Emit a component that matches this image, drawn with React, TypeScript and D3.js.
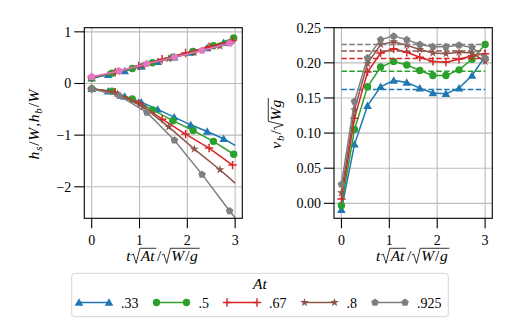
import React, { useEffect, useRef } from "react";
import * as d3 from "d3";

// legend labels and colours per Atwood number
const atLabels = [".33", ".5", ".67", ".8", ".925"];
const lineColors = ["#1f77b4", "#2ca02c", "#d62728", "#8c564b", "#7f7f7f"];
const surfaceColors = ["#1f77b4", "#2ca02c", "#d62728", "#8c564b", "#e377c2"];
const markerKinds = ["tri", "circle", "plus", "star", "pent"];

// left panel: bubble / spike heights
const hTimes = [
  [0, 0.345, 0.69, 1.035, 1.38, 1.725, 2.07, 2.415, 2.76, 3.0],
  [0, 0.424, 0.849, 1.273, 1.697, 2.121, 2.546, 2.97],
  [0, 0.491, 0.982, 1.473, 1.964, 2.455, 2.946],
  [0, 0.537, 1.073, 1.61, 2.147, 2.683, 3.0],
  [0, 0.577, 1.154, 1.731, 2.308, 2.885, 3.0],
];
const hMarked = [9, 8, 7, 6, 6];
const hsValues = [
  [0.1, 0.17, 0.24, 0.33, 0.42, 0.51, 0.6, 0.69, 0.79, 0.86],
  [0.11, 0.2, 0.29, 0.4, 0.51, 0.62, 0.73, 0.88],
  [0.12, 0.22, 0.34, 0.47, 0.59, 0.71, 0.83],
  [0.12, 0.23, 0.35, 0.48, 0.6, 0.72, 0.8],
  [0.13, 0.24, 0.38, 0.51, 0.64, 0.78, 0.81],
];
const hbValues = [
  [-0.1, -0.15, -0.25, -0.36, -0.5, -0.65, -0.8, -0.93, -1.07, -1.2],
  [-0.1, -0.15, -0.3, -0.51, -0.72, -0.91, -1.12, -1.37],
  [-0.1, -0.17, -0.38, -0.69, -0.98, -1.25, -1.58],
  [-0.1, -0.2, -0.45, -0.84, -1.27, -1.67, -1.93],
  [-0.1, -0.24, -0.56, -1.1, -1.76, -2.47, -2.6],
];

// right panel: bubble velocity
const vTimes = [0, 0.273, 0.545, 0.818, 1.091, 1.364, 1.636, 1.909, 2.182, 2.455, 2.727, 3.0];
const vbValues = [
  [-0.009, 0.084, 0.139, 0.166, 0.175, 0.172, 0.164, 0.157, 0.156, 0.164, 0.182, 0.209],
  [-0.003, 0.105, 0.166, 0.194, 0.202, 0.197, 0.189, 0.182, 0.182, 0.19, 0.205, 0.226],
  [0.006, 0.121, 0.187, 0.214, 0.22, 0.215, 0.208, 0.202, 0.201, 0.205, 0.21, 0.213],
  [0.015, 0.133, 0.199, 0.226, 0.23, 0.225, 0.219, 0.214, 0.213, 0.215, 0.214, 0.202],
  [0.027, 0.145, 0.207, 0.233, 0.238, 0.233, 0.226, 0.223, 0.223, 0.225, 0.222, 0.207],
];
const vbTerminal = [0.162, 0.188, 0.206, 0.217, 0.226];

const xTicks = [0, 1, 2, 3];
const hTicks = [1, 0, -1, -2];
const vTicks = [0, 0.05, 0.1, 0.15, 0.2, 0.25];

const FONT = '"Liberation Serif", "Times New Roman", "DejaVu Serif", serif';
const FS = 14;
const MATH_FS = 15.5;

type Tok = { s: string; it?: boolean; sub?: boolean } | { sqrt: Tok[] };

const xLabel: Tok[] = [
  { s: "t", it: true },
  { sqrt: [{ s: "At", it: true }] },
  { s: "/" },
  { sqrt: [{ s: "W", it: true }, { s: "/" }, { s: "g", it: true }] },
];
const hLabel: Tok[] = [
  { s: "h", it: true }, { s: "s", it: true, sub: true }, { s: "/" }, { s: "W", it: true },
  { s: ", " },
  { s: "h", it: true }, { s: "b", it: true, sub: true }, { s: "/" }, { s: "W", it: true },
];
const vLabel: Tok[] = [
  { s: "v", it: true }, { s: "b", it: true, sub: true }, { s: "/" },
  { sqrt: [{ s: "Wg", it: true }] },
];

function addText(g: any, x: number, y: number, size: number, s: string) {
  return g
    .append("text")
    .attr("x", x)
    .attr("y", y)
    .style("font-family", FONT)
    .style("font-size", `${size}px`)
    .text(s);
}

function drawMath(g: any, toks: Tok[], x: number, fs: number): number {
  for (const tk of toks) {
    if ("sqrt" in tk) {
      const x0 = x;
      const end = drawMath(g, tk.sqrt, x + 0.6 * fs, fs);
      const top = -0.82 * fs;
      g.append("path")
        .attr(
          "d",
          `M${x0},${-0.38 * fs} L${x0 + 0.12 * fs},${-0.45 * fs} L${x0 + 0.3 * fs},${0.15 * fs} L${x0 + 0.54 * fs},${top} L${end + 0.05 * fs},${top}`
        )
        .attr("fill", "none")
        .attr("stroke", "#000")
        .attr("stroke-width", 0.8);
      x = end + 0.1 * fs;
    } else {
      const size = tk.sub ? fs * 0.7 : fs;
      const t = addText(g, x, tk.sub ? 0.22 * fs : 0, size, tk.s).style(
        "font-style",
        tk.it ? "italic" : "normal"
      );
      x += t.node().getComputedTextLength() + (tk.it ? 0.06 * fs : 0.04 * fs);
    }
  }
  return x;
}

function mathLabel(parent: any, toks: Tok[], cx: number, cy: number, rotate: boolean) {
  const outer = parent
    .append("g")
    .attr("transform", `translate(${cx},${cy})${rotate ? " rotate(-90)" : ""}`);
  const inner = outer.append("g");
  const w = drawMath(inner, toks, 0, MATH_FS);
  inner.attr("transform", `translate(${-w / 2},0)`);
}

function drawMarker(g: any, kind: string, x: number, y: number, color: string) {
  if (kind === "circle") {
    g.append("circle").attr("cx", x).attr("cy", y).attr("r", 3.7).attr("fill", color);
  } else if (kind === "plus") {
    g.append("path")
      .attr("d", `M${x - 4.2},${y} H${x + 4.2} M${x},${y - 4.2} V${y + 4.2}`)
      .attr("stroke", color)
      .attr("stroke-width", 1.5);
  } else if (kind === "pent") {
    const pts = d3.range(5).map((k) => {
      const a = -Math.PI / 2 + (k * 2 * Math.PI) / 5;
      return [x + 4 * Math.cos(a), y + 4 * Math.sin(a)];
    });
    g.append("path").attr("d", "M" + pts.map((p) => p.join(",")).join("L") + "Z").attr("fill", color);
  } else {
    const type = kind === "tri" ? d3.symbolTriangle : d3.symbolStar;
    const size = kind === "tri" ? 32 : 24;
    g.append("path")
      .attr("d", d3.symbol().type(type).size(size)())
      .attr("transform", `translate(${x},${y + (kind === "tri" ? 0.8 : 0)})`)
      .attr("fill", color);
  }
}

const App = () => {
  const svgRef = useRef<SVGSVGElement>(null);

  useEffect(() => {
    const svg = d3.select(svgRef.current);
    svg.selectAll("*").remove();

    const top = 27.7;
    const bottom = 218.3;

    const makePanel = (
      left: number,
      right: number,
      yDomain: [number, number],
      yTicks: number[],
      fmt: (d: number) => string,
      id: string
    ) => {
      const x = d3.scaleLinear().domain([-0.155, 3.15]).range([left, right]);
      const y = d3.scaleLinear().domain(yDomain).range([bottom, top]);
      const g = svg.append("g");
      // grid
      g.selectAll(".gx")
        .data(xTicks)
        .enter()
        .append("line")
        .attr("x1", (d) => x(d))
        .attr("x2", (d) => x(d))
        .attr("y1", top)
        .attr("y2", bottom)
        .attr("stroke", "#bcbcbc")
        .attr("stroke-width", 1.1);
      g.selectAll(".gy")
        .data(yTicks)
        .enter()
        .append("line")
        .attr("x1", left)
        .attr("x2", right)
        .attr("y1", (d) => y(d))
        .attr("y2", (d) => y(d))
        .attr("stroke", "#bcbcbc")
        .attr("stroke-width", 1.1);
      // ticks
      xTicks.forEach((t) => {
        g.append("line")
          .attr("x1", x(t))
          .attr("x2", x(t))
          .attr("y1", bottom)
          .attr("y2", bottom + 10)
          .attr("stroke", "#000")
          .attr("stroke-width", 1.1);
        addText(g, x(t), 245, FS, String(t)).attr("text-anchor", "middle");
      });
      yTicks.forEach((t) => {
        g.append("line")
          .attr("x1", left - 10)
          .attr("x2", left)
          .attr("y1", y(t))
          .attr("y2", y(t))
          .attr("stroke", "#000")
          .attr("stroke-width", 1.1);
        addText(g, left - 13, y(t) + 5, FS, fmt(t)).attr("text-anchor", "end");
      });
      svg
        .append("clipPath")
        .attr("id", id)
        .append("rect")
        .attr("x", left)
        .attr("y", top)
        .attr("width", right - left)
        .attr("height", bottom - top);
      const plot = svg.append("g").attr("clip-path", `url(#${id})`);
      return { x, y, plot, left, right };
    };

    // left panel
    const L = makePanel(84.3, 242.3, [-2.61, 1.08], hTicks, (d) => (d < 0 ? "\u2212" + -d : String(d)), "clipL");
    hTimes.forEach((ts, i) => {
      [
        { vals: hsValues[i], color: surfaceColors[i] },
        { vals: hbValues[i], color: lineColors[i] },
      ].forEach(({ vals, color }) => {
        const pts = ts.map((t, k) => [L.x(t), L.y(vals[k])] as [number, number]);
        L.plot
          .append("path")
          .attr("d", d3.line()(pts))
          .attr("fill", "none")
          .attr("stroke", color)
          .attr("stroke-width", 1.5);
        pts.slice(0, hMarked[i]).forEach((p) => drawMarker(L.plot, markerKinds[i], p[0], p[1], color));
      });
    });

    // right panel
    const R = makePanel(334, 492.3, [-0.0213, 0.25], vTicks, (d) => d.toFixed(2), "clipR");
    vbValues.forEach((vals, i) => {
      const pts = vTimes.map((t, k) => [R.x(t), R.y(vals[k])] as [number, number]);
      R.plot
        .append("path")
        .attr("d", d3.line()(pts))
        .attr("fill", "none")
        .attr("stroke", lineColors[i])
        .attr("stroke-width", 1.5);
      pts.forEach((p) => drawMarker(R.plot, markerKinds[i], p[0], p[1], lineColors[i]));
      R.plot
        .append("line")
        .attr("x1", R.x(0))
        .attr("x2", R.x(3))
        .attr("y1", R.y(vbTerminal[i]))
        .attr("y2", R.y(vbTerminal[i]))
        .attr("stroke", lineColors[i])
        .attr("stroke-width", 1.5)
        .attr("stroke-dasharray", "5.5,2.4");
    });

    // frames
    [L, R].forEach((p) => {
      svg
        .append("rect")
        .attr("x", p.left)
        .attr("y", top)
        .attr("width", p.right - p.left)
        .attr("height", bottom - top)
        .attr("fill", "none")
        .attr("stroke", "#000")
        .attr("stroke-width", 1.1);
    });

    // axis labels
    mathLabel(svg, xLabel, (84.3 + 242.3) / 2, 261, false);
    mathLabel(svg, xLabel, (334 + 492.3) / 2, 261, false);
    mathLabel(svg, hLabel, 39, 124, true);
    mathLabel(svg, vLabel, 281, 123, true);

    // legend
    const lg = svg.append("g");
    lg.append("rect")
      .attr("x", 71.7)
      .attr("y", 273.3)
      .attr("width", 376.6)
      .attr("height", 43.4)
      .attr("rx", 3)
      .attr("fill", "#fff")
      .attr("stroke", "#d4d4d4")
      .attr("stroke-width", 1);
    addText(lg, 260, 289, MATH_FS, "At").attr("text-anchor", "middle").style("font-style", "italic");
    let lx = 79;
    atLabels.forEach((lab, i) => {
      const ly = 302.5;
      lg.append("line")
        .attr("x1", lx)
        .attr("x2", lx + 30)
        .attr("y1", ly)
        .attr("y2", ly)
        .attr("stroke", lineColors[i])
        .attr("stroke-width", 1.5);
      drawMarker(lg, markerKinds[i], lx, ly, lineColors[i]);
      drawMarker(lg, markerKinds[i], lx + 30, ly, lineColors[i]);
      const t = addText(lg, lx + 42, 307.5, FS, lab);
      lx = lx + 42 + (t.node() as SVGTextElement).getComputedTextLength() + 18;
    });
  }, []);

  return (
    <svg
      ref={svgRef}
      width={520}
      height={320}
      style={{ position: "absolute", left: 0, top: 0, background: "#fff" }}
    />
  );
};

export default App;
